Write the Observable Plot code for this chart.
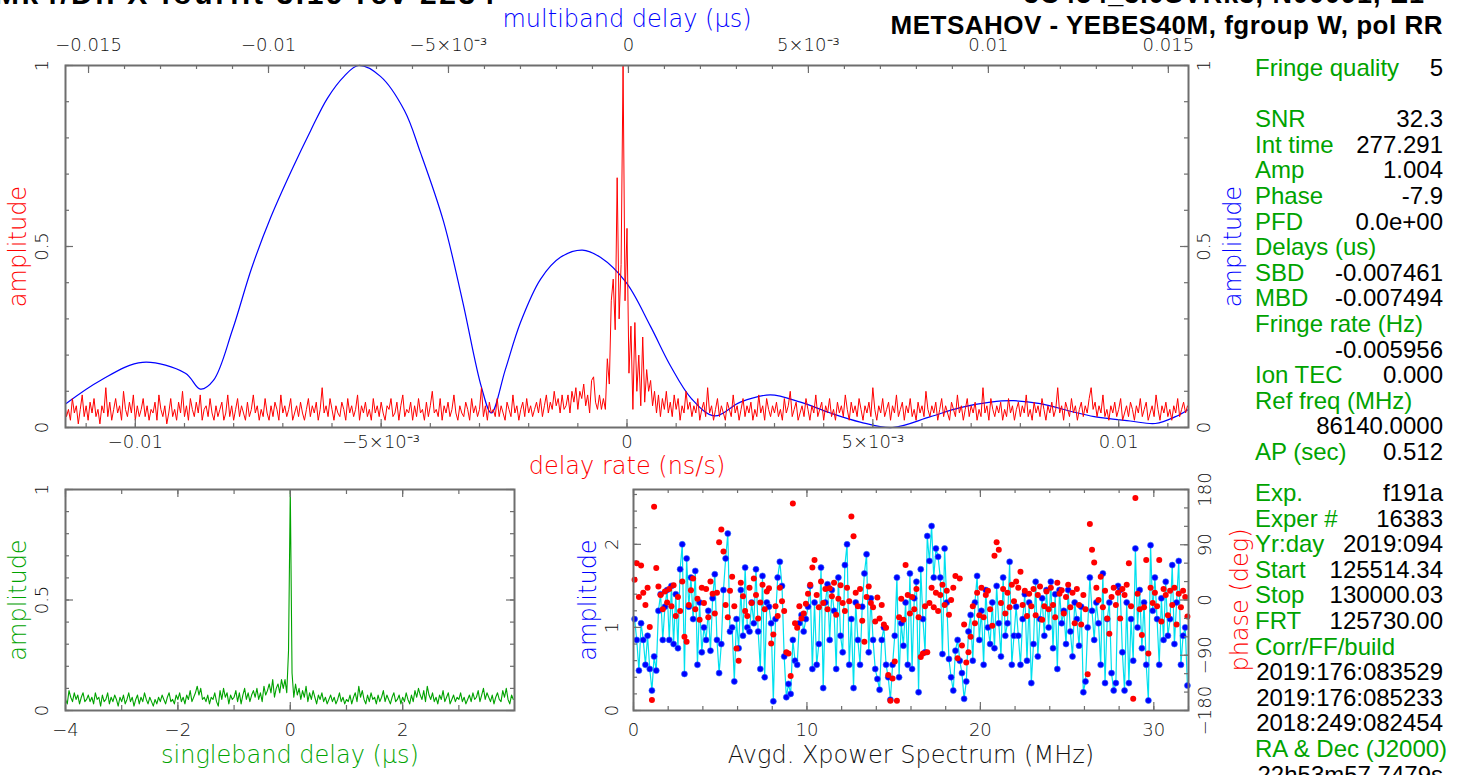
<!DOCTYPE html>
<html><head><meta charset="utf-8">
<script src="https://cdn.jsdelivr.net/npm/d3@7"></script>
<script src="https://cdn.jsdelivr.net/npm/@observablehq/plot@0.6"></script>
<style>
body{margin:0;background:#fff;}
#page{position:relative;width:1468px;height:775px;overflow:hidden;background:#fff;}
#page svg{position:absolute;left:0;top:0;}
.t{position:absolute;white-space:pre;font-family:"Liberation Sans",Arial,sans-serif;}
</style></head><body><div id="page"></div>
<script>
// ---------------- DATA ----------------
// Delay-rate amplitude (percent), uniform grid in ns/s
const drStart = -0.01144, drStep = 0.00004;
const delayRatePct = [
7,3,5,2,8,4,6,1,5,9,3,6,2,7,4,8,3,5,1,6,
4,11,3,7,2,5,8,4,6,2,10,5,3,7,4,9,2,6,3,5,
8,3,6,2,5,4,7,2,9,5,3,6,1,4,8,3,5,2,7,4,
10,3,6,2,8,5,3,7,4,9,2,5,6,3,8,4,2,6,3,5,
7,2,4,9,3,6,2,5,8,3,6,4,2,7,3,5,9,4,6,2,
5,3,8,4,2,6,3,7,5,2,9,4,6,3,5,8,2,4,6,3,
7,4,2,5,8,3,6,4,7,2,5,11,4,6,3,8,5,2,6,4,
3,7,5,2,8,4,6,3,5,9,2,6,4,7,3,5,2,8,4,6,
3,7,4,2,6,5,8,3,4,7,2,6,9,3,5,4,7,2,6,3,
8,4,5,2,7,3,6,10,4,5,3,8,2,6,4,7,3,5,9,4,
2,6,4,3,7,5,2,8,4,6,3,5,11,3,6,2,7,4,5,3,
8,3,6,4,2,7,5,3,9,4,6,2,5,7,3,8,4,6,3,5,
7,4,8,3,6,9,4,7,5,10,6,8,4,9,5,6,9,4,10,7,
11,5,10,8,12,6,9,4,13,14,7,5,9,5,8,5,19,12,35,41,
27,69,30,45,100,35,55,15,28,5,29,10,20,6,25,7,16,10,13,6,
10,4,9,3,8,5,10,4,7,3,9,5,8,2,6,4,10,5,7,3,
6,4,8,2,5,7,3,11,4,6,2,5,8,3,6,4,2,7,5,3,
9,4,6,2,5,8,3,6,4,7,2,5,3,9,4,6,2,8,5,3,
6,4,7,3,5,2,8,4,6,10,3,5,7,2,4,6,3,8,5,2,
6,4,9,3,5,7,2,6,4,8,3,5,2,7,4,6,3,9,5,2,
7,4,6,3,8,5,2,6,4,7,3,11,5,2,6,4,8,3,5,7,
2,6,4,9,3,5,7,2,6,4,8,3,5,2,7,4,6,3,10,5,
3,6,4,7,2,5,8,3,6,4,2,7,5,3,9,4,6,2,5,8,
3,6,4,7,2,5,3,11,4,6,2,8,5,3,6,4,7,2,5,3,
8,4,6,2,5,7,3,6,4,9,3,5,2,7,4,6,3,8,5,2,
6,4,7,3,5,11,4,6,2,7,5,3,8,4,6,2,5,7,3,6,
4,8,11,5,7,3,6,4,9,3,5,2,6,4,7,3,5,8,2,4,
6,3,7,5,2,6,4,8,3,5,7,2,4,6,3,9,5,2,6,4,
7,3,5,2,6,4,8,3,5,7,4,6,5];

// Multiband delay amplitude curve (us, amplitude)
const mbdDelay = [-0.01564,-0.01467,-0.0135,-0.01231,-0.01189,-0.01153,-0.011,-0.01047,-0.00994,-0.00936,-0.00883,-0.00836,-0.00790,-0.0075,-0.00689,-0.00622,-0.00578,-0.00514,-0.00461,-0.00408,-0.00381,-0.00342,-0.003,-0.00244,-0.00189,-0.00128,-0.00078,-0.00006,0.00061,0.00117,0.00175,0.00239,0.00311,0.00394,0.00478,0.00561,0.00644,0.00733,0.00839,0.00922,0.01006,0.0107,0.01144,0.01228,0.01294,0.01394,0.01464,0.0152,0.01556];
const mbdAmp   = [0.065,0.13,0.18,0.15,0.106,0.13,0.27,0.44,0.58,0.71,0.82,0.91,0.97,1.0,0.97,0.875,0.76,0.57,0.35,0.11,0.04,0.16,0.29,0.41,0.47,0.49,0.47,0.40,0.28,0.17,0.08,0.032,0.07,0.09,0.07,0.04,0.015,0.0,0.03,0.055,0.07,0.074,0.066,0.045,0.03,0.018,0.011,0.03,0.05];

// Singleband delay amplitude (percent), uniform grid in us
const sbdStart = -4, sbdStep = 0.03125;
const sbdPct = [
5,3,9,6,4,8,5,7,3,6,8,4,5,7,4,6,3,8,5,6,2,7,4,5,8,3,6,4,7,5,2,6,
4,7,3,5,8,4,6,2,5,7,3,6,4,8,5,3,6,4,2,5,3,6,4,7,5,3,6,8,4,5,3,7,
5,8,4,6,3,7,5,9,4,6,8,11,7,10,5,6,4,7,3,6,5,8,4,2,9,5,10,6,8,3,7,5,
6,9,4,8,3,7,10,5,8,4,7,9,6,10,5,8,4,11,7,9,12,8,14,6,10,12,8,14,10,14,8,27,
100,17,6,12,7,10,5,9,6,11,4,8,5,9,6,3,7,5,8,4,6,3,5,7,4,6,3,5,8,4,6,3,
5,4,7,3,6,8,4,11,6,9,5,3,7,4,8,5,6,3,7,4,6,9,4,7,5,3,6,8,4,5,7,3,
6,4,8,5,3,7,4,9,6,10,7,5,9,4,11,7,5,8,4,6,3,7,5,9,4,6,8,3,5,7,4,6,
5,8,4,6,3,5,7,4,8,5,6,9,4,7,10,5,8,6,4,7,3,6,8,5,4,9,6,10,5,3,7,5];

// Averaged cross-power spectrum, channel grid in MHz
const specStart = 0.0625, specStep = 0.125;
const specAmp = [
1.1,0.85,0.48,1.05,0.85,0.55,0.9,0.5,  0.24,0.65,0.48,1.2,1.4,0.85,1.25,1.45,
0.85,1.5,0.8,1.4,0.75,1.7,2.0,0.44,    1.83,1.25,1.6,1.1,1.68,0.55,1.3,0.7,
1.0,0.85,1.2,0.72,1.35,1.64,0.85,0.45, 0.8,1.45,1.83,2.13,0.95,1.0,0.35,1.1,
0.75,1.45,0.9,1.72,1.0,0.95,1.3,1.05,  1.7,0.95,0.5,1.62,0.4,1.3,1.25,1.05,
0.11,1.1,1.6,1.79,1.5,0.65,0.16,0.32,  0.2,0.85,0.6,0.55,1.05,1.15,0.95,1.1,
1.25,1.5,0.5,1.3,0.55,0.8,1.72,0.27,   1.3,1.52,0.85,1.45,1.2,0.5,1.6,0.9,
0.7,1.75,2.0,0.55,1.1,0.27,1.3,0.85,   0.55,1.25,1.65,1.88,0.7,1.35,0.85,0.5,
0.38,0.25,0.85,1.0,0.55,0.4,0.13,0.55, 0.9,1.6,0.4,1.05,0.78,1.3,0.55,1.65,
0.5,1.35,1.55,0.22,1.7,1.1,0.7,2.1,    1.8,2.22,1.6,1.95,1.85,1.6,0.68,1.95,
1.3,0.62,0.4,0.24,0.72,0.85,0.6,0.45,  0.14,0.35,0.95,1.15,0.6,1.3,1.62,0.85,
1.2,0.55,1.45,1.0,0.8,1.3,0.75,1.5,    1.05,0.65,1.6,0.9,1.05,1.79,0.55,0.9,
1.25,0.9,0.55,1.1,1.4,0.6,1.3,0.33,    0.8,1.55,0.65,1.1,1.35,0.9,1.45,1.0,
1.55,0.75,1.4,0.5,1.45,1.05,1.2,0.8,   1.45,0.95,0.65,1.3,1.1,0.78,1.25,0.22,
0.35,1.0,1.6,1.2,0.85,1.3,1.05,0.55,   1.65,0.33,1.1,1.3,0.45,0.24,0.33,1.5,
1.45,0.7,0.24,1.3,0.33,1.1,0.6,1.95,   1.0,1.45,0.75,1.3,0.55,0.12,1.99,1.2,
1.6,1.1,0.55,1.35,0.85,1.55,0.9,1.1,   1.75,0.8,1.3,1.8,0.55,0.9,1.0,0.3];
const specPhase = [
33,60,5,56,12,-8,20,-44,        -163,152,52,22,8,-15,14,-4,
18,-10,24,-26,5,-18,30,-60,     -68,-8,16,35,-15,2,-32,20,
-5,18,-28,30,10,-22,12,94,      115,79,-8,-28,15,38,-10,-79,
-99,28,6,-18,-26,20,-5,35,      8,-30,-4,25,-15,14,19,-71,
-56,-10,-26,20,-2,-18,-85,-87,  -124,157,-38,-45,-10,-30,-22,-6,
10,25,53,65,8,-12,30,-5,        18,-15,19,6,28,-24,2,24,
-5,-18,20,-2,136,104,12,-10,    18,-34,-68,5,22,-5,-12,-35,
4,-30,-8,-40,-45,-122,-164,-128, -100,-164,-28,2,-32,57,8,-22,
5,-15,18,-28,-93,-87,-10,-85,   -5,20,-12,12,-18,8,25,-8,
15,-24,0,20,39,-95,35,-74,      -40,-102,-85,-60,-10,-38,12,-25,
20,-28,8,15,-15,-42,72,94,      82,-5,18,-22,12,-12,25,-2,
30,20,46,-8,15,-26,10,-10,      18,-25,8,22,-32,-10,14,-15,
20,-8,-28,28,10,16,-22,5,       25,-12,12,-38,18,-8,-40,8,
-15,-121,124,82,61,20,0,38,     -12,15,-30,-55,5,20,-8,12,
-30,18,8,25,60,-10,-161,166,    10,-15,-57,-12,65,-87,20,-5,
12,-10,65,-35,18,8,-25,15,      -8,20,-40,10,-12,15,5,-27];

// Tick values and labels
const rateMajor = [-0.01,-0.005,0,0.005,0.01];
const rateLabels = ["\u22120.01","\u22125\u00d710\u207b\u00b3","0","5\u00d710\u207b\u00b3","0.01"];
const mbdMajor = [-0.015,-0.01,-0.005,0,0.005,0.01,0.015];
const mbdLabels = ["\u22120.015","\u22120.01","\u22125\u00d710\u207b\u00b3","0","5\u00d710\u207b\u00b3","0.01","0.015"];
const ampMajor = [0,0.5,1];
const ampLabels = ["0","0.5","1"];
const sbdMajor = [-4,-2,0,2];
const sbdLabels = ["\u22124","\u22122","0","2"];
const freqMajor = [0,10,20,30];
const freqLabels = ["0","10","20","30"];
const specAmpMajor = [0,1,2];
const specAmpLabels = ["0","1","2"];
const phaseMajor = [-180,-90,0,90,180];
const phaseLabels = ["\u2212180","\u221290","0","90","180"];

const titleLeft = "Mk4/DiFX fourfit 3.19 rev 2234";
const titleRight1 = "3C454_3.0SVRk3, N00091, E1";
const titleRight2 = "METSAHOV - YEBES40M, fgroup W, pol RR";

const infoTop = [["Fringe quality","5"],["",""],["SNR","32.3"],["Int time","277.291"],["Amp","1.004"],["Phase","-7.9"],["PFD","0.0e+00"],["Delays (us)",""],["SBD","-0.007461"],["MBD","-0.007494"],["Fringe rate (Hz)",""],["","-0.005956"],["Ion TEC","0.000"],["Ref freq (MHz)",""],["","86140.0000"],["AP (sec)","0.512"]];
const infoBottom = [["Exp.","f191a"],["Exper #","16383"],["Yr:day","2019:094"],["Start","125514.34"],["Stop","130000.03"],["FRT","125730.00"],["Corr/FF/build",""],["","2019:176:083529"],["","2019:176:085233"],["","2018:249:082454"],["RA & Dec (J2000)",""],["","22h53m57.7479s"]];

// ---------------- DRAWING ----------------
const W = 1468, H = 775;
const AX = "#6e6e6e";
const PGF = "'DejaVu Sans', sans-serif";
const RED = "#ff0000", BLUE = "#0000ff", GREEN = "#00a300", CYAN = "#00e0ee";
const TOP = {l:65, r:1188, t:65, b:427};
const BL  = {l:65, r:514, t:489, b:710};
const BR  = {l:633, r:1188, t:489, b:710};

function base(box, xd, yd, marks) {
  return Plot.plot({
    width: W, height: H,
    marginLeft: box.l, marginRight: W - box.r, marginTop: box.t, marginBottom: H - box.b,
    x: {domain: xd, axis: null}, y: {domain: yd, axis: null},
    style: {background: "transparent", overflow: "visible"},
    marks
  });
}
function tx(vals, box, anchor, len) {
  const ih = box.b - box.t;
  return Plot.tickX(vals, {x: d => d, stroke: AX, strokeWidth: 1.2,
    ...(anchor === "bottom" ? {insetTop: ih - len} : {insetBottom: ih - len})});
}
function ty(vals, box, anchor, len) {
  const iw = box.r - box.l;
  return Plot.tickY(vals, {y: d => d, stroke: AX, strokeWidth: 1.2,
    ...(anchor === "left" ? {insetRight: iw - len} : {insetLeft: iw - len})});
}
function lx(vals, labels, anchor, dy) {
  return Plot.text(vals, {x: d => d, text: (d, i) => labels[i], frameAnchor: anchor, dy,
    textAnchor: "middle", lineAnchor: "middle",
    fontFamily: PGF, fontWeight: 300, fontSize: 18, fill: "#111"});
}
function ly(vals, labels, anchor, dx) {
  return Plot.text(vals, {y: d => d, text: (d, i) => labels[i], frameAnchor: anchor, dx, rotate: -90,
    textAnchor: "middle", lineAnchor: "middle",
    fontFamily: PGF, fontWeight: 300, fontSize: 18, fill: "#111"});
}
function title(txt, anchor, off, color) {
  const o = {text: d => d, frameAnchor: anchor, textAnchor: "middle", lineAnchor: "middle",
    fontFamily: PGF, fontWeight: 300, fontSize: 24, fill: color, letterSpacing: "1px"};
  if (anchor === "top" || anchor === "bottom") o.dy = off; else { o.dx = off; o.rotate = -90; }
  return Plot.text([txt], o);
}
const frame = () => Plot.frame({stroke: AX, strokeWidth: 2});
const range = (a, b, s) => d3.range(Math.round(a / s), Math.round(b / s) + 1).map(k => +(k * s).toFixed(6));

const page = document.getElementById("page");

// Top panel: multiband delay (blue, top/right axes)
const mbdRows = mbdDelay.map((d, i) => ({delay: d, amp: mbdAmp[i]}));
page.appendChild(base(TOP, [-0.01564, 0.01556], [0, 1], [
  Plot.line(mbdRows, {x: "delay", y: "amp", stroke: BLUE, strokeWidth: 1.2, curve: "catmull-rom"}),
  tx(range(-0.015, 0.015, 0.001), TOP, "top", 4),
  tx(mbdMajor, TOP, "top", 8),
  lx(mbdMajor, mbdLabels, "top", -20),
  ty(range(0, 1, 0.1), TOP, "right", 4),
  ty(ampMajor, TOP, "right", 8),
  ly(ampMajor, ampLabels, "right", 16),
  title("multiband delay (\u03bcs)", "top", -46, BLUE),
  title("amplitude", "right", 45, BLUE)
]));

// Top panel: delay rate (red, bottom/left axes)
const rateRows = delayRatePct.map((a, i) => ({rate: drStart + i * drStep, amp: a / 100}));
page.appendChild(base(TOP, [-0.01142, 0.01142], [0, 1], [
  Plot.line(rateRows, {x: "rate", y: "amp", stroke: RED, strokeWidth: 1, clip: true}),
  tx(range(-0.011, 0.011, 0.001), TOP, "bottom", 4),
  tx(rateMajor, TOP, "bottom", 8),
  lx(rateMajor, rateLabels, "bottom", 15),
  ty(range(0, 1, 0.1), TOP, "left", 4),
  ty(ampMajor, TOP, "left", 8),
  ly(ampMajor, ampLabels, "left", -23),
  frame(),
  title("delay rate (ns/s)", "bottom", 39, RED),
  title("amplitude", "left", -47, RED)
]));

// Bottom-left: singleband delay (green)
const sbdRows = sbdPct.map((a, i) => ({delay: sbdStart + i * sbdStep, amp: a / 100}));
page.appendChild(base(BL, [-4, 3.99], [0, 1], [
  Plot.line(sbdRows, {x: "delay", y: "amp", stroke: GREEN, strokeWidth: 1.1}),
  tx(range(-4, 3, 1), BL, "bottom", 5), tx(range(-4, 3, 1), BL, "top", 5),
  tx(sbdMajor, BL, "bottom", 8), tx(sbdMajor, BL, "top", 8),
  ty(range(0, 1, 0.1), BL, "left", 4), ty(range(0, 1, 0.1), BL, "right", 4),
  ty(ampMajor, BL, "left", 8), ty(ampMajor, BL, "right", 8),
  lx(sbdMajor, sbdLabels, "bottom", 20),
  ly(ampMajor, ampLabels, "left", -23),
  frame(),
  title("singleband delay (\u03bcs)", "bottom", 45, GREEN),
  title("amplitude", "left", -47, GREEN)
]));

// Bottom-right: cross-power spectrum amplitude (blue/cyan)
const specRows = specAmp.map((a, i) => ({freq: specStart + i * specStep, amp: a, phase: specPhase[i]}));
page.appendChild(base(BR, [0, 32], [0, 2.66], [
  Plot.line(specRows, {x: "freq", y: "amp", stroke: CYAN, strokeWidth: 1.2}),
  Plot.dot(specRows, {x: "freq", y: "amp", r: 3, fill: BLUE, stroke: "#2a6cff", strokeWidth: 0.6}),
  tx(range(0, 32, 2), BR, "bottom", 4), tx(range(0, 32, 2), BR, "top", 4),
  tx(freqMajor, BR, "bottom", 8), tx(freqMajor, BR, "top", 8),
  ty(range(0, 2.6, 0.2), BR, "left", 4),
  ty(specAmpMajor, BR, "left", 8),
  lx(freqMajor, freqLabels, "bottom", 20),
  ly(specAmpMajor, specAmpLabels, "left", -21),
  title("Avgd. Xpower Spectrum (MHz)", "bottom", 45, "#111"),
  title("amplitude", "left", -45, BLUE)
]));

// Bottom-right: phase (red dots, right axis)
page.appendChild(base(BR, [0, 32], [-180, 180], [
  Plot.dot(specRows, {x: "freq", y: "phase", r: 3, fill: RED}),
  ty(range(-180, 180, 30), BR, "right", 4),
  ty(phaseMajor, BR, "right", 8),
  ly(phaseMajor, phaseLabels, "right", 17),
  frame(),
  title("phase (deg)", "right", 52, RED)
]));

// ---------------- TEXT BLOCKS ----------------
function addText(txt, css) {
  const d = document.createElement("div");
  d.className = "t";
  d.textContent = txt;
  Object.assign(d.style, css);
  page.appendChild(d);
}
addText(titleLeft, {left: "-6px", top: "-21px", fontSize: "30px", fontWeight: "bold", letterSpacing: "2.6px", lineHeight: "30px"});
addText(titleRight1, {right: "43px", top: "-21px", fontSize: "27px", fontWeight: "bold", lineHeight: "30px", letterSpacing: "1px"});
addText(titleRight2, {right: "25px", top: "10px", fontSize: "26px", fontWeight: "bold", lineHeight: "30px", letterSpacing: "0.5px"});

function infoBlock(rows, centerTop, step) {
  rows.forEach(([lab, val], i) => {
    const top = (centerTop + i * step - 12) + "px";
    if (lab) addText(lab, {left: "1255px", top, fontSize: "24px", lineHeight: "24px", color: GREEN});
    if (val) addText(val, {right: "25px", top, fontSize: "24px", lineHeight: "24px", color: "#000", textAlign: "right"});
  });
}
infoBlock(infoTop, 68, 25.6);
infoBlock(infoBottom, 493, 25.6);
</script></body></html>
